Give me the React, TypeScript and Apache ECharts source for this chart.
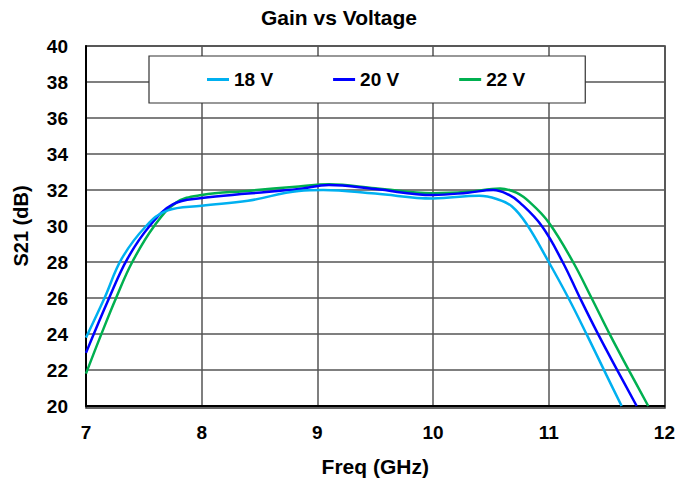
import React, { useEffect, useRef } from "react";
import * as echarts from "echarts";

const freq18 = [7.0, 7.16, 7.31, 7.52, 7.7, 8.0, 8.4, 8.84, 9.05, 9.5, 10.0, 10.4, 10.55, 10.68, 10.81, 11.0, 11.17, 11.33, 11.5, 11.63];
const gain18 = [23.8, 26.0, 28.2, 30.0, 30.85, 31.12, 31.4, 31.95, 32.0, 31.8, 31.53, 31.68, 31.5, 31.1, 30.1, 28.0, 26.0, 23.95, 21.7, 20.0];

const freq20 = [7.0, 7.2, 7.36, 7.55, 7.75, 8.0, 8.4, 8.84, 9.1, 9.5, 10.0, 10.3, 10.52, 10.65, 10.75, 10.94, 11.12, 11.27, 11.43, 11.6, 11.76];
const gain20 = [22.95, 26.0, 28.2, 30.0, 31.2, 31.55, 31.8, 32.05, 32.28, 32.05, 31.72, 31.85, 32.0, 31.75, 31.3, 30.0, 28.0, 26.0, 23.95, 21.9, 20.0];

const freq22 = [7.0, 7.13, 7.26, 7.4, 7.59, 7.78, 8.0, 8.4, 8.84, 9.1, 9.5, 10.0, 10.3, 10.58, 10.72, 10.84, 11.0, 11.21, 11.37, 11.53, 11.7, 11.86];
const gain22 = [21.8, 23.95, 26.0, 28.0, 30.0, 31.3, 31.72, 31.95, 32.2, 32.32, 32.1, 31.82, 31.9, 32.08, 31.85, 31.3, 30.2, 28.0, 26.0, 23.95, 21.9, 20.0];

const seriesNames = ["18 V", "20 V", "22 V"];
const seriesColors = ["#00B0F0", "#0000FF", "#00B050"];

const pair = (xs: number[], ys: number[]) => xs.map((x, i) => [x, ys[i]]);

export default function App() {
  const ref = useRef<HTMLDivElement>(null);
  useEffect(() => {
    if (!ref.current) return;
    const chart = echarts.init(ref.current, null, { renderer: "svg" });
    const font = "Liberation Sans, Arial, sans-serif";
    const datasets = [pair(freq18, gain18), pair(freq20, gain20), pair(freq22, gain22)];
    chart.setOption({
      animation: false,
      backgroundColor: "#fff",
      title: {
        text: "Gain vs Voltage",
        left: "center",
        top: 2,
        textStyle: { fontFamily: font, fontSize: 21, fontWeight: "bold", color: "#000" },
      },
      legend: {
        data: seriesNames,
        left: 149,
        top: 56,
        orient: "horizontal",
        icon: "rect",
        itemWidth: 22,
        itemHeight: 3,
        itemGap: 60,
        padding: [14, 60, 14, 58],
        borderColor: "#333",
        borderWidth: 1.2,
        backgroundColor: "#fff",
        borderRadius: 0,
        textStyle: { fontFamily: font, fontSize: 19, fontWeight: "bold", color: "#000" },
      },
      grid: { left: 86, right: 13, top: 46, bottom: 74, containLabel: false },
      xAxis: {
        type: "value",
        min: 7,
        max: 12,
        interval: 1,
        name: "Freq (GHz)",
        nameLocation: "middle",
        nameGap: 50,
        nameTextStyle: { fontFamily: font, fontSize: 21, fontWeight: "bold", color: "#000" },
        axisLine: { show: true, lineStyle: { color: "#000", width: 2 } },
        axisTick: { show: false },
        axisLabel: { fontFamily: font, fontSize: 19, fontWeight: "bold", color: "#000", margin: 17 },
        splitLine: { show: true, lineStyle: { color: "#555", width: 1.5 } },
      },
      yAxis: {
        type: "value",
        min: 20,
        max: 40,
        interval: 2,
        name: "S21 (dB)",
        nameLocation: "middle",
        nameGap: 55,
        nameTextStyle: { fontFamily: font, fontSize: 20, fontWeight: "bold", color: "#000" },
        axisLine: { show: true, lineStyle: { color: "#000", width: 2 } },
        axisTick: { show: false },
        axisLabel: { fontFamily: font, fontSize: 19, fontWeight: "bold", color: "#000", margin: 18 },
        splitLine: { show: true, lineStyle: { color: "#555", width: 1.5 } },
      },
      graphic: [
        {
          type: "rect",
          shape: { x: 86, y: 46, width: 579, height: 362 },
          style: { fill: "none", stroke: "#333", lineWidth: 1.5 },
          silent: true,
          z: -1,
        },
      ],
      series: seriesNames.map((name, i) => ({
        name,
        type: "line",
        data: datasets[i],
        smooth: 0.4,
        showSymbol: false,
        clip: true,
        color: seriesColors[i],
        lineStyle: { color: seriesColors[i], width: 2.5 },
        z: 3 + (2 - i),
      })),
    });
    return () => chart.dispose();
  }, []);
  return (
    <div
      ref={ref}
      style={{ position: "fixed", left: 0, top: 0, width: 678, height: 482 }}
    />
  );
}
